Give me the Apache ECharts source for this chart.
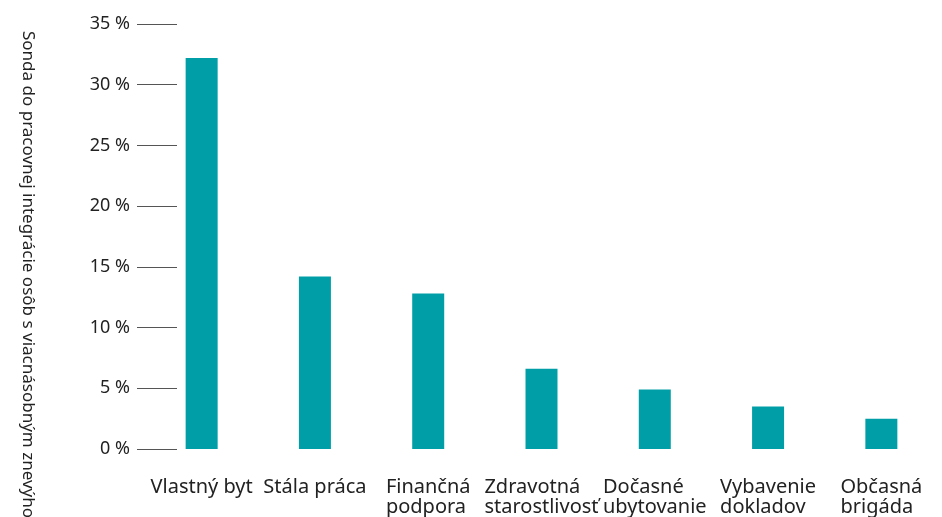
<!DOCTYPE html>
<html>
<head>
<meta charset="utf-8">
<script src="https://cdn.jsdelivr.net/npm/echarts@6/dist/echarts.min.js"></script>
<style>
  html, body { margin: 0; padding: 0; background: #fff; }
  #wrap { width: 942px; height: 517px; }
</style>
</head>
<body>
<div id="wrap"></div>
<script>
var categories = ['Vlastný byt', 'Stála práca', 'Finančná\npodpora', 'Zdravotná\nstarostlivosť', 'Dočasné\nubytovanie', 'Vybavenie\ndokladov', 'Občasná\nbrigáda'];
var values = [32.2, 14.2, 12.8, 6.6, 4.9, 3.5, 2.5];
var axisTitle = 'Sonda do pracovnej integrácie osôb s viacnásobným znevýhodnením';

var font = '"Noto Sans", sans-serif';
var myChart = echarts.init(document.getElementById('wrap'));
var option = {
    animation: false,
    grid: { left: 145, right: 4, top: 24, bottom: 68 },
    graphic: [{
        type: 'text',
        x: 28,
        y: 31,
        rotation: -Math.PI / 2,
        style: {
            text: axisTitle,
            fill: '#222',
            font: '17px ' + font,
            textAlign: 'left',
            textVerticalAlign: 'middle'
        }
    }],
    xAxis: {
        type: 'category',
        data: categories,
        axisLine: { show: false },
        axisTick: { show: false },
        axisLabel: {
            interval: 0,
            margin: 28,
            formatter: function(v) {
                return '{a|' + v + '}';
            },
            rich: {
                a: {
                    align: 'left',
                    color: '#222',
                    fontSize: 20,
                    fontFamily: font,
                    lineHeight: 20
                }
            }
        }
    },
    yAxis: {
        type: 'value',
        min: 0,
        max: 35,
        interval: 5,
        offset: 8,
        axisLine: { show: false },
        axisTick: { show: true, inside: true, length: 40, lineStyle: { color: '#555', width: 1 } },
        splitLine: { show: false },
        axisLabel: {
            formatter: '{value} %',
            color: '#222',
            fontSize: 18,
            fontFamily: font,
            margin: 7
        }
    },
    series: [{
        type: 'bar',
        data: values,
        barWidth: 32,
        itemStyle: { color: '#009FA8' }
    }]
};
myChart.setOption(option);
</script>
</body>
</html>
